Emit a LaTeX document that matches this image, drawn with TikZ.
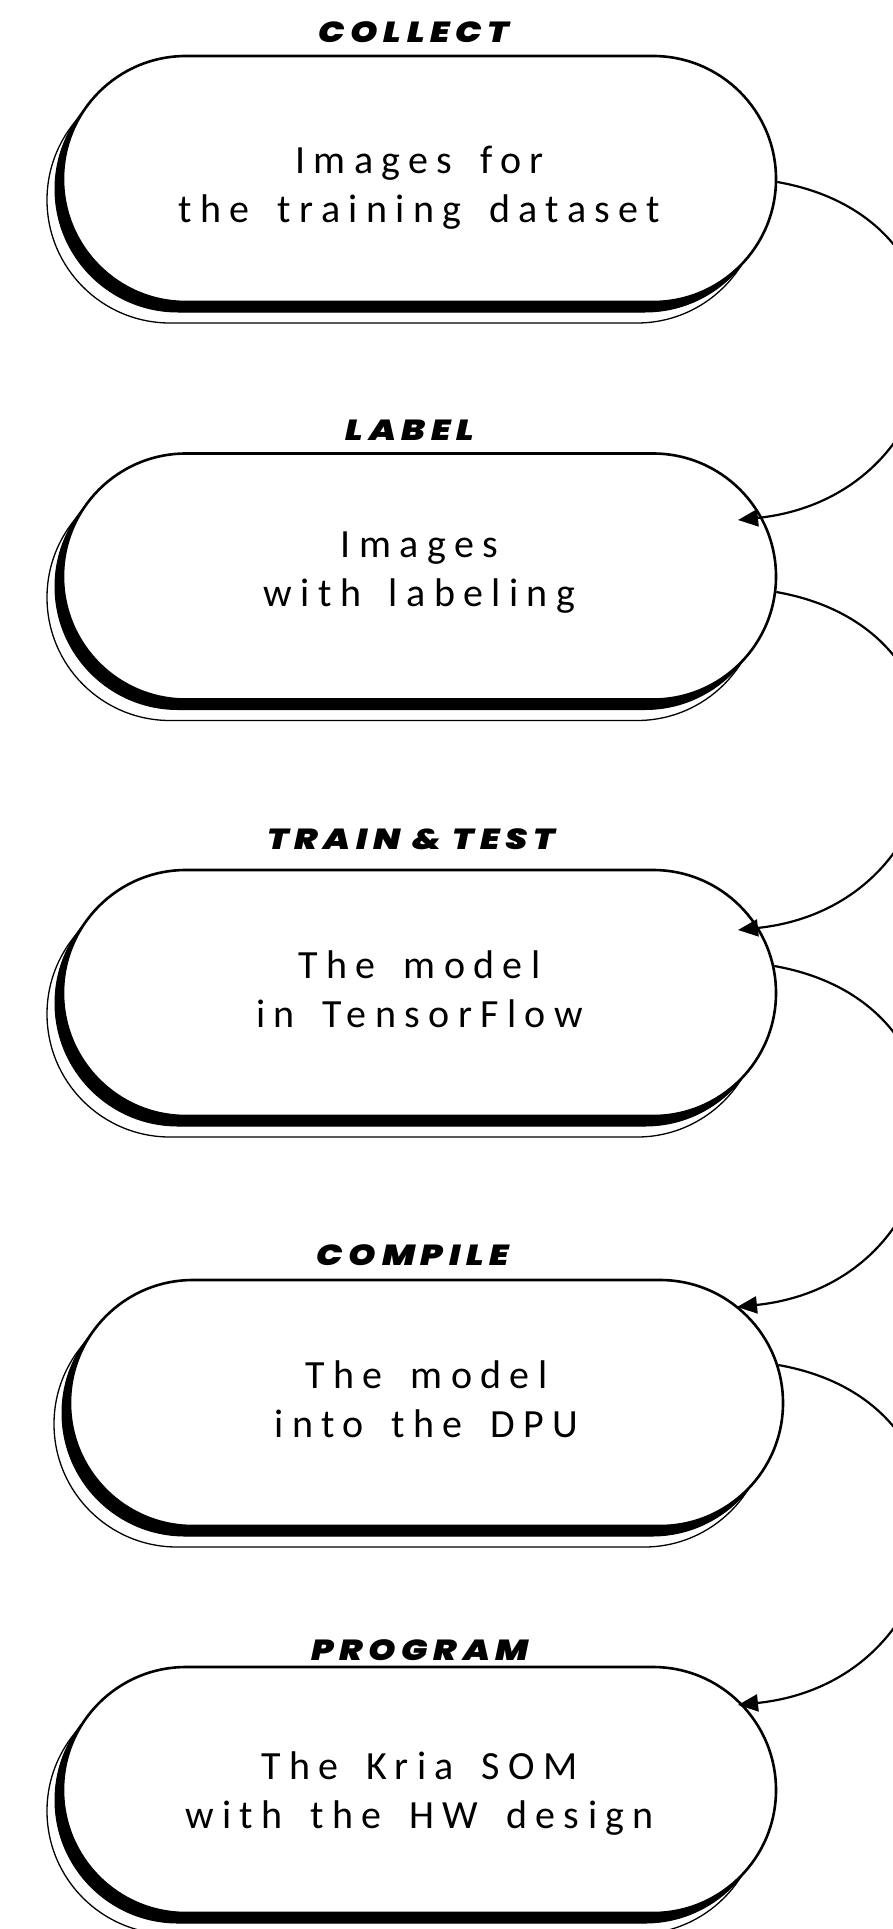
\documentclass[tikz,border=0pt]{standalone}
\usepackage{fontspec}
\setmainfont{Carlito}
\newfontfamily\bodyfont{Carlito}[LetterSpace=21,WordSpace=1.6]
\newfontfamily\titlefont{Poppins Black Italic}[LetterSpace=20,FakeStretch=1.2]
\usetikzlibrary{shapes.misc,shadows,arrows.meta,calc}

\begin{document}
\begin{tikzpicture}[x=1pt,y=1pt,
  stage/.style={rounded rectangle, draw=black, line width=2.6pt, fill=white,
    minimum width=713pt, minimum height=246pt, inner sep=0pt,
    general shadow={shadow xshift=-16pt, shadow yshift=-21pt,
      fill=white, draw=black, line width=1.3pt},
    general shadow={shadow xshift=-8pt, shadow yshift=-10pt,
      fill=black, draw=black, line width=1pt}},
  stagetext/.style={align=center, inner sep=0pt,
    font=\bodyfont\fontsize{40}{49}\selectfont},
  heading/.style={anchor=base, inner sep=0pt,
    font=\titlefont\fontsize{29}{29}\selectfont},
  flow/.style={line width=2.2pt, -{Triangle[length=20pt,width=17pt]}}
]
\useasboundingbox (0,0) rectangle (893,-1929);
\clip (0,0) rectangle (893,-1929);
\fill[white] (0,0) rectangle (893,-1929);

% stage shapes
\node[stage] (s1) at (419.5,-179)   {};
\node[stage] (s2) at (419.5,-576.5) {};
\node[stage] (s3) at (419.5,-993)   {};
\node[stage] (s4) at (426.5,-1403)  {};
\node[stage] (s5) at (419.5,-1790)  {};

% stage descriptions
\node[stagetext] (d1) at ([yshift=-9pt]s1.center) {Images for\\the training dataset};
\node[stagetext] (d2) at ([yshift=4pt]s2.center)  {Images\\with labeling};
\node[stagetext] (d3) at ([yshift=4pt]s3.center)  {The model\\in TensorFlow};
\node[stagetext] (d4) at ([yshift=4pt]s4.center)  {The model\\into the DPU};
\node[stagetext] (d5) at ([yshift=-4pt]s5.center) {The Kria SOM\\with the HW design};

% stage headings
\node[heading] (h1) at (414,-43)   {COLLECT};
\node[heading] (h2) at (410,-440)  {LABEL};
\node[heading] (h3) at (411,-849)  {TRAIN \& TEST};
\node[heading] (h4) at (413,-1265) {COMPILE};
\node[heading] (h5) at (420,-1660) {PROGRAM};

% arrow tips on the next stage
\coordinate (t2) at ($(s2.center)+(318.5,56.5)$);
\coordinate (t3) at ($(s3.center)+(318.5,63)$);
\coordinate (t4) at ($(s4.center)+(310.5,96)$);
\coordinate (t5) at ($(s5.center)+(318.5,85)$);

% connectors
\draw[flow] ([yshift=-3pt]s1.east)
  .. controls +(-10:225) and +(6:225) .. (t2);
\draw[flow] ([xshift=-1pt,yshift=-15.5pt]s2.east)
  .. controls +(-10:225) and +(6:225) .. (t3);
\draw[flow] ([xshift=-3pt,yshift=27pt]s3.east)
  .. controls +(-10:225) and +(6:225) .. (t4);
\draw[flow] ([xshift=-6pt,yshift=38pt]s4.east)
  .. controls +(-10:225) and +(6:225) .. (t5);
\end{tikzpicture}
\end{document}
